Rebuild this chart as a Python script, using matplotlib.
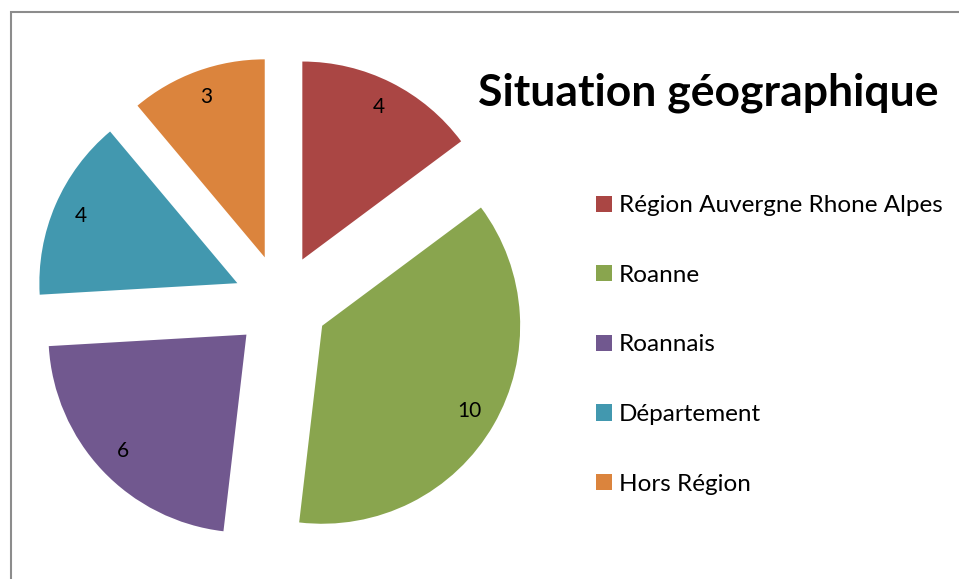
import matplotlib.pyplot as plt
from matplotlib.patches import Rectangle

# donnees
categories = ["Région Auvergne Rhone Alpes", "Roanne", "Roannais", "Département", "Hors Région"]
valeurs = [4, 10, 6, 4, 3]
couleurs = ["#AA4644", "#89A54E", "#71588F", "#4298AF", "#DB843D"]
titre = "Situation géographique"

plt.rcParams['font.family'] = ['Lato', 'DejaVu Sans']

W, H = 959, 579
fig = plt.figure(figsize=(W / 100, H / 100), dpi=100)

# cadre gris autour du graphique (deborde a droite et en bas)
fig.patches.append(Rectangle((10.5 / W, -0.05), 1.0, (H - 11.5) / H + 0.05,
                             transform=fig.transFigure, fill=False,
                             edgecolor="#8c8c8c", linewidth=1.5))

# axe du camembert place en pixels : centre (281, 302), rayon ~198 px
r_px = 198
lim = 1.3
cx, cy = 281, H - 302
taille = 2 * lim * r_px
ax = fig.add_axes([(cx - taille / 2) / W, (cy - taille / 2) / H, taille / W, taille / H])

total = sum(valeurs)
wedges, textes, autotextes = ax.pie(
    valeurs, colors=couleurs, startangle=90, counterclock=False,
    explode=[0.24] * len(valeurs), radius=1,
    autopct=lambda p: "%d" % round(p * total / 100), pctdistance=0.86,
    wedgeprops=dict(linewidth=0), textprops=dict(fontsize=15, color="black"))
ax.set_xlim(-lim, lim)
ax.set_ylim(-lim, lim)
ax.set_aspect('auto')

fig.text(708 / W, 1 - 93 / H, titre, fontsize=32, fontweight='bold',
         ha='center', va='center')

fig.legend(wedges, categories, loc='upper left',
           bbox_to_anchor=(584 / W, 1 - 183 / H), frameon=False,
           fontsize=17.5, handlelength=0.65, handleheight=0.65,
           handletextpad=0.3, labelspacing=2.0, borderpad=0)

fig.savefig("out.png", dpi=100, facecolor="white")
